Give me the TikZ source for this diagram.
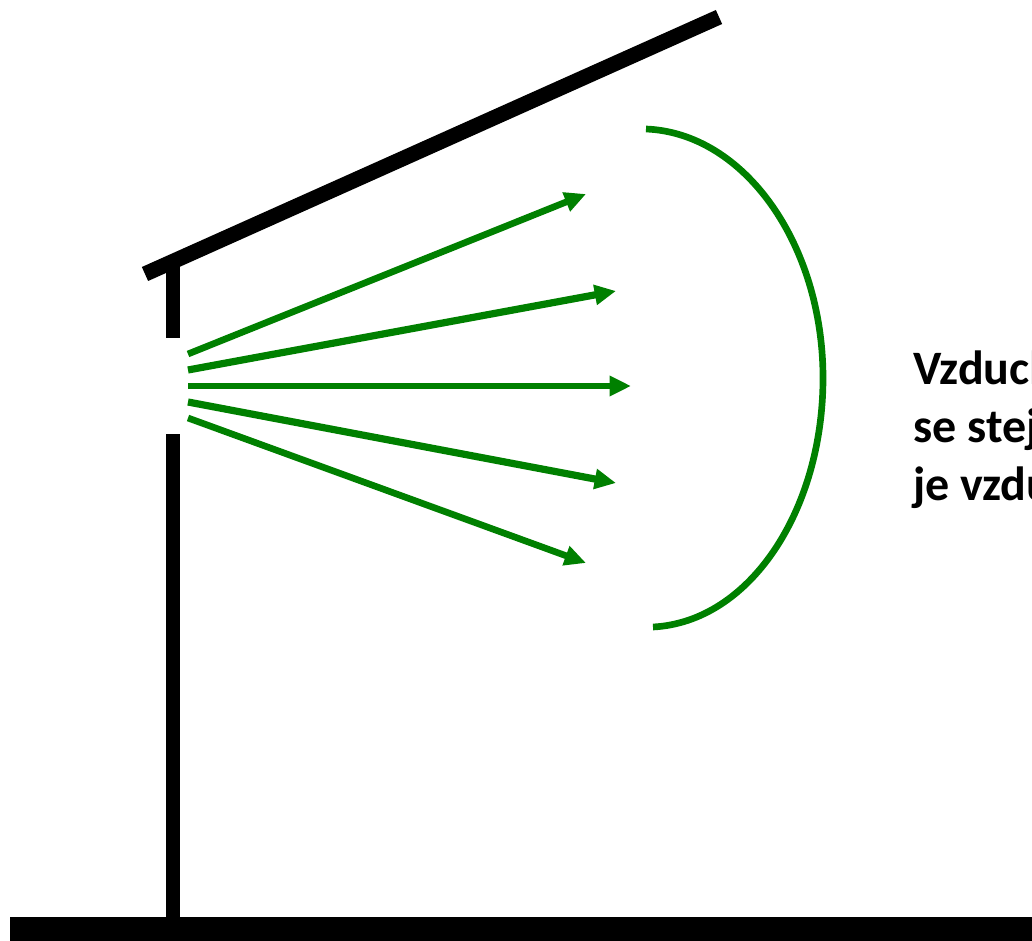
\documentclass[tikz,border=0pt]{standalone}
\usepackage{fontspec}
\setmainfont{Carlito}
\usetikzlibrary{arrows.meta}
\definecolor{flowgreen}{RGB}{0,128,0}
\tikzset{
  wall/.style={line width=10.5pt,black},
  roofbar/.style={line width=11.5pt,black},
  ray/.style={line width=5pt,flowgreen,-{Triangle[length=16pt,width=14.5pt]}},
  widerray/.style={ray,line width=5.4pt,-{Triangle[length=16pt,width=14.5pt]}},
  front/.style={line width=5pt,flowgreen},
  caption/.style={anchor=base west,inner sep=0pt,font=\fontsize{36}{40}\selectfont\bfseries}
}
\begin{document}
\begin{tikzpicture}[x=0.75pt,y=-0.75pt]
\useasboundingbox (0,0) rectangle (1032,941);
\clip (0,0) rectangle (1032,941);
\coordinate (roofL) at (145,274);
\coordinate (roofR) at (719,17);
\coordinate (postT) at (173,266);
\coordinate (postB) at (173,338);
\coordinate (wallT) at (173,434);
\coordinate (wallB) at (173,920);
\coordinate (groundL) at (10,929);
\coordinate (groundR) at (1032,929);
\draw[roofbar] (roofL) -- (roofR);
\draw[wall] (postT) -- (postB);
\draw[wall] (wallT) -- (wallB);
\draw[black,line width=18pt] (groundL) -- (groundR);
\coordinate (s1) at (188,354);
\coordinate (s2) at (188,370);
\coordinate (s3) at (188,386);
\coordinate (s4) at (188,402);
\coordinate (s5) at (188,418);
\coordinate (e1) at (586,194);
\coordinate (e2) at (616,291);
\coordinate (e3) at (631,386);
\coordinate (e4) at (616,483);
\coordinate (e5) at (586,563);
\draw[ray] (s1) -- (e1);
\draw[widerray] (s2) -- (e2);
\draw[ray] (s3) -- (e3);
\draw[widerray] (s4) -- (e4);
\draw[ray] (s5) -- (e5);
\coordinate (arcA) at (646,129);
\coordinate (arcM) at (823,378);
\coordinate (arcB) at (653,627);
\draw[front] (arcA) .. controls (745,133) and (823,245) .. (arcM)
             .. controls (823,510) and (750,622) .. (arcB);
\node[caption] (t1) at (913,384) {Vzduch};
\node[caption] (t2) at (913,442) {se stej};
\node[caption] (t3) at (913,500) {je vzdu};
\end{tikzpicture}
\end{document}
